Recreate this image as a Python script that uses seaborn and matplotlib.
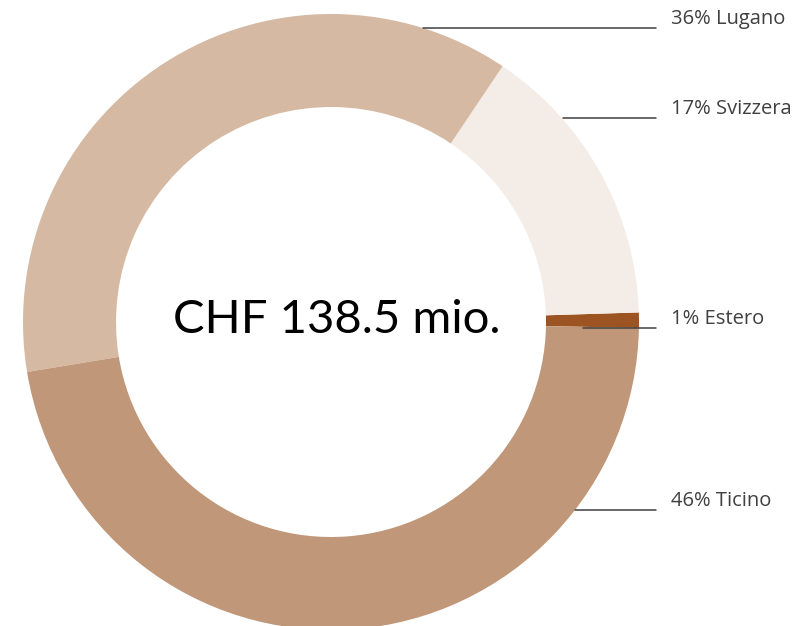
import matplotlib
matplotlib.use("Agg")
import matplotlib.pyplot as plt
import seaborn as sns

# wedge shares as they appear in the ring (counter-clockwise from 3 o'clock)
regions = ["Estero", "Svizzera", "Lugano", "Ticino"]
shares = [0.8, 15.1, 37.0, 47.1]
label_pct = ["1%", "17%", "36%", "46%"]
colors = ["#9C5423", "#F4EDE7", "#D5B9A3", "#C09778"]
total_text = "CHF 138.5 mio."

sns.set_theme(style="white")
plt.rcParams["font.family"] = ["Open Sans", "DejaVu Sans"]

W, H = 805, 626
fig = plt.figure(figsize=(W / 100, H / 100), dpi=100)
ax = fig.add_axes([0, 0, 1, 1])

cx, cy, R = 331, H - 322, 308
ax.pie(shares, colors=colors, startangle=-1.1, counterclock=True,
       center=(cx, cy), radius=R, frame=True,
       wedgeprops=dict(width=93, linewidth=0))
ax.set_xlim(0, W)
ax.set_ylim(0, H)
ax.set_aspect("equal")
ax.axis("off")

ax.text(cx + 6, H - 320, total_text, ha="center", va="center",
        fontsize=34, family=["Lato", "DejaVu Sans"], color="black")

# leader lines: (y of line, x start) in pixel coords from top
leaders = {"Lugano": (28, 423), "Svizzera": (118, 563),
           "Estero": (328, 583), "Ticino": (510, 575)}
for reg, pct in zip(regions, label_pct):
    ly, x0 = leaders[reg]
    ax.plot([x0, 656], [H - ly, H - ly], color="#404040", lw=1.1)
    ax.text(671, H - ly + 9, f"{pct} {reg}", ha="left", va="center",
            fontsize=14.5, color="#404040")

fig.savefig("out.png", dpi=100)
